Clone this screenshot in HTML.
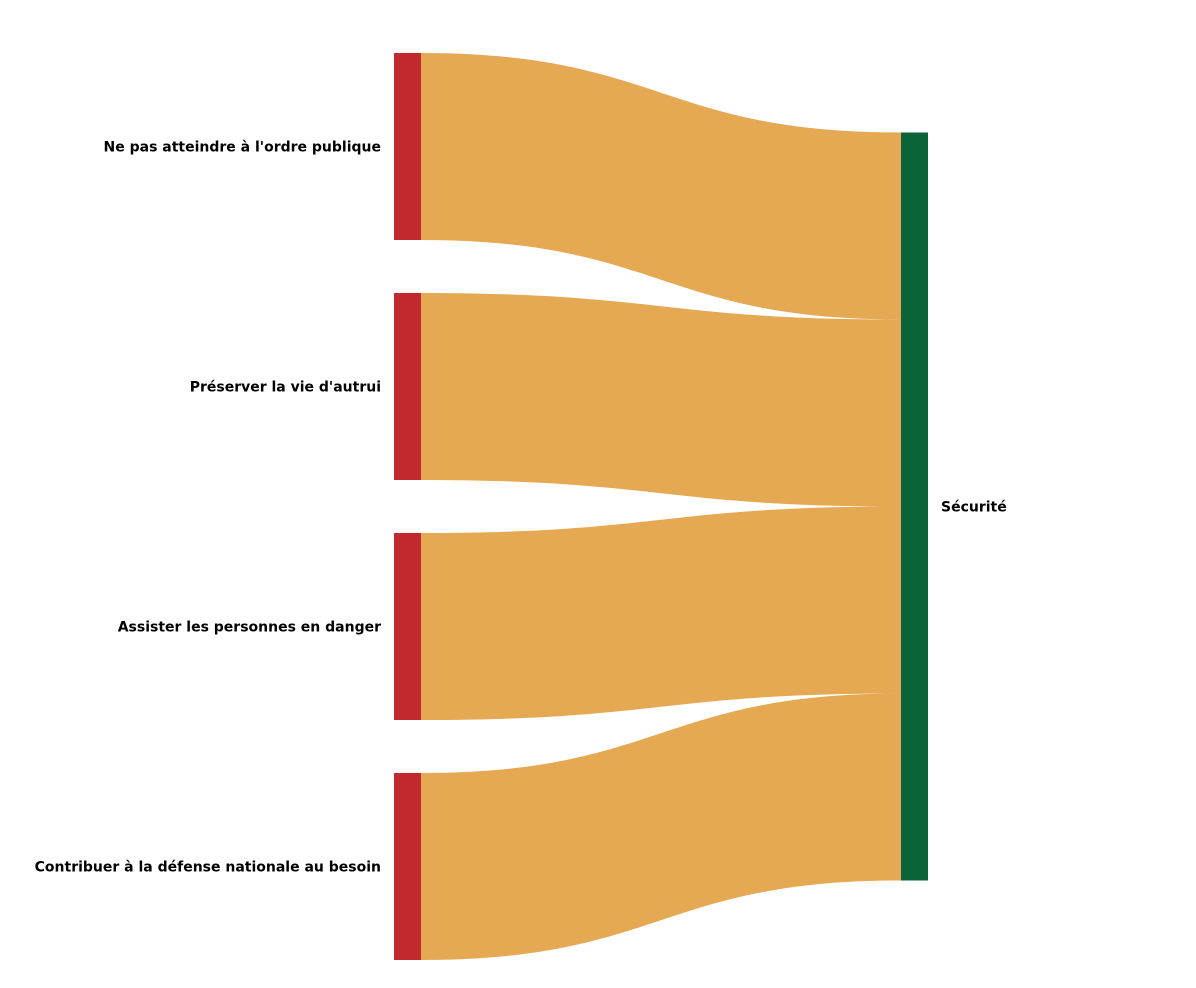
<!DOCTYPE html>
<html><head><meta charset="utf-8"><style>
html,body{margin:0;padding:0;background:#fff;width:1196px;height:988px;overflow:hidden}
svg text{font-family:"DejaVu Sans",sans-serif;font-weight:bold;font-size:14px;fill:#000}
</style></head><body>
<svg id="chart" width="1196" height="988" xmlns="http://www.w3.org/2000/svg"></svg>
<script>
const sources = ["Ne pas atteindre à l'ordre publique","Préserver la vie d'autrui","Assister les personnes en danger","Contribuer à la défense nationale au besoin"];
const values = [1,1,1,1];
const target = "Sécurité";

const svg = document.getElementById('chart');
const NS = 'http://www.w3.org/2000/svg';
const top0 = 53, gap = 53, unitH = 187;
const lx = 394, nw = 27, rx = 901;
const k = unitH / 1;
let y = top0;
const left = values.map(v => { const r = {y0: y, y1: y + v * k}; y += v * k + gap; return r; });
const bottom = y - gap;
const total = values.reduce((a, b) => a + b, 0) * k;
const ry0 = (top0 + bottom) / 2 - total / 2;

let ty = ry0;
values.forEach((v, i) => {
  const h = v * k, sx = lx + nw, mx = (sx + rx) / 2;
  const s0 = left[i].y0, t0 = ty, t1 = ty + h, s1 = left[i].y1;
  const p = document.createElementNS(NS, 'path');
  p.setAttribute('d', `M${sx},${s0} C${mx},${s0} ${mx},${t0} ${rx},${t0} L${rx},${t1} C${mx},${t1} ${mx},${s1} ${sx},${s1} Z`);
  p.setAttribute('fill', '#e5a853');
  
  
  svg.appendChild(p);
  ty += h;
});

sources.forEach((s, i) => {
  const r = document.createElementNS(NS, 'rect');
  r.setAttribute('x', lx); r.setAttribute('y', left[i].y0);
  r.setAttribute('width', nw); r.setAttribute('height', left[i].y1 - left[i].y0);
  r.setAttribute('fill', '#c1292f');
  
  
  svg.appendChild(r);
  const t = document.createElementNS(NS, 'text');
  t.setAttribute('x', lx - 13); t.setAttribute('y', (left[i].y0 + left[i].y1) / 2 + 5);
  t.setAttribute('text-anchor', 'end');
  t.textContent = s;
  
  
  svg.appendChild(t);
});

const rr = document.createElementNS(NS, 'rect');
rr.setAttribute('x', rx); rr.setAttribute('y', ry0);
rr.setAttribute('width', nw); rr.setAttribute('height', total);
rr.setAttribute('fill', '#0b6338');


svg.appendChild(rr);
const tt = document.createElementNS(NS, 'text');
tt.setAttribute('x', rx + nw + 13); tt.setAttribute('y', ry0 + total / 2 + 5);
tt.textContent = target;


svg.appendChild(tt);
</script>
</body></html>
